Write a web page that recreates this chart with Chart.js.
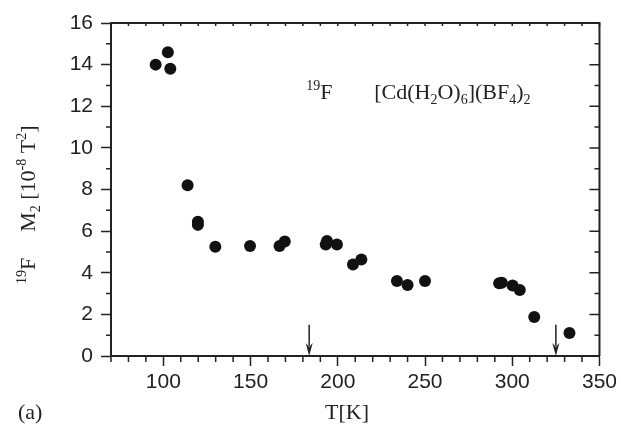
<!DOCTYPE html>
<html><head><meta charset="utf-8">
<script src="https://cdn.jsdelivr.net/npm/chart.js@4"></script>
<style>html,body{margin:0;padding:0;background:#fff}canvas{display:block}</style>
</head><body>
<canvas id="c" width="621" height="435"></canvas>
<script>
// ---- data ----
const temperatureK = [95.6, 102.6, 104.0, 113.9, 119.8, 119.8, 129.8, 149.7, 166.6, 169.6, 193.1, 193.8, 199.5, 208.7, 213.5, 233.9, 240.0, 250.0, 292.5, 294.0, 300.2, 304.3, 312.6, 332.8];
const secondMoment = [14.0, 14.6, 13.8, 8.2, 6.45, 6.3, 5.25, 5.28, 5.28, 5.5, 5.36, 5.52, 5.36, 4.4, 4.64, 3.6, 3.41, 3.6, 3.49, 3.52, 3.39, 3.17, 1.87, 1.1];
const xTickLabels = [100, 150, 200, 250, 300, 350];
const yTickLabels = [0, 2, 4, 6, 8, 10, 12, 14, 16];
const arrowT = [183.6, 325.0];
const arrowTopM2 = 1.5;

const AX = '#222';
const SERIF = '"Liberation Serif", "Times New Roman", serif';
const SANS = '"Liberation Sans", Arial, sans-serif';

function drawRuns(ctx, runs, x0, y0) {
  let x = x0;
  for (const r of runs) {
    const size = r.k ? 14 : 22;
    ctx.font = size + 'px ' + SERIF;
    const dy = r.k === 'sup' ? -9 : (r.k === 'sub' ? 5 : 0);
    ctx.fillText(r.t, x, y0 + dy);
    x += ctx.measureText(r.t).width + (r.gap || 0);
  }
}

const framePlugin = {
  id: 'frame',
  afterDraw(chart) {
    const ctx = chart.ctx, a = chart.chartArea, x = chart.scales.x, y = chart.scales.y;
    ctx.save();
    ctx.strokeStyle = AX; ctx.fillStyle = AX; ctx.lineWidth = 2;
    ctx.beginPath();
    ctx.moveTo(a.left, a.top); ctx.lineTo(a.right, a.top); ctx.lineTo(a.right, a.bottom);
    ctx.stroke();
    ctx.lineWidth = 1.5;
    ctx.beginPath();
    for (let v = x.min; v <= x.max; v += 10) {
      const px = x.getPixelForValue(v);
      if (v % 50 !== 0) { ctx.moveTo(px, a.bottom); ctx.lineTo(px, a.bottom + 6); }
      ctx.moveTo(px, a.top); ctx.lineTo(px, a.top + 3);
    }
    for (let v = y.min; v <= y.max; v += 1) {
      const py = y.getPixelForValue(v);
      if (v % 2 !== 0) { ctx.moveTo(a.left, py); ctx.lineTo(a.left - 5, py); }
      ctx.moveTo(a.right, py); ctx.lineTo(a.right - (v % 2 ? 5 : 10), py);
    }
    ctx.stroke();
    // arrows
    for (const t of arrowT) {
      const px = x.getPixelForValue(t);
      const top = y.getPixelForValue(arrowTopM2), tip = y.getPixelForValue(0);
      ctx.beginPath(); ctx.lineWidth = 1.5;
      ctx.moveTo(px, top); ctx.lineTo(px, tip - 10); ctx.stroke();
      ctx.beginPath();
      ctx.moveTo(px - 3.5, tip - 13); ctx.lineTo(px, tip - 9); ctx.lineTo(px + 3.5, tip - 13);
      ctx.lineTo(px, tip); ctx.closePath(); ctx.fill();
    }
    // annotation
    ctx.textBaseline = 'alphabetic'; ctx.textAlign = 'left';
    const by = y.getPixelForValue(12.35);
    drawRuns(ctx, [{t: '19', k: 'sup'}, {t: 'F'}], x.getPixelForValue(181.9), by);
    drawRuns(ctx, [{t: '[Cd(H'}, {t: '2', k: 'sub'}, {t: 'O)'}, {t: '6', k: 'sub'}, {t: '](BF'}, {t: '4', k: 'sub'}, {t: ')'}, {t: '2', k: 'sub'}], x.getPixelForValue(220.9), by);
    // y title
    ctx.save();
    ctx.translate(35, 284); ctx.rotate(-Math.PI / 2);
    drawRuns(ctx, [{t: '19', k: 'sup'}, {t: 'F', gap: 26}, {t: 'M'}, {t: '2', k: 'sub'}, {t: ' [10'}, {t: '-8', k: 'sup'}, {t: ' T'}, {t: '2', k: 'sup'}, {t: ']'}], 0, 0);
    ctx.restore();
    // x title & panel label
    ctx.font = '22px ' + SERIF;
    ctx.textAlign = 'center';
    ctx.fillText('T[K]', 347, 419);
    ctx.textAlign = 'left';
    ctx.fillText('(a)', 18, 419);
    ctx.restore();
  }
};

new Chart(document.getElementById('c'), {
  type: 'scatter',
  data: {
    datasets: [{
      data: temperatureK.map((t, i) => ({x: t, y: secondMoment[i]})),
      backgroundColor: '#111', borderColor: '#111', borderWidth: 0,
      pointRadius: 6, pointHoverRadius: 6
    }]
  },
  options: {
    responsive: false, animation: false, devicePixelRatio: 1,
    layout: {padding: {top: 23, right: 20, left: 0, bottom: 0}},
    plugins: {legend: {display: false}, tooltip: {enabled: false}},
    scales: {
      x: {
        type: 'linear', position: 'bottom', min: 70, max: 350,
        afterBuildTicks: s => { s.ticks = xTickLabels.map(v => ({value: v})); },
        afterFit: s => { s.height = 79; },
        grid: {drawOnChartArea: false, tickLength: 10, tickWidth: 1.5, tickColor: AX},
        border: {color: AX, width: 2},
        ticks: {font: {family: SANS, size: 21}, color: AX, padding: 4, maxRotation: 0}
      },
      y: {
        type: 'linear', position: 'left', min: 0, max: 16,
        afterBuildTicks: s => { s.ticks = yTickLabels.map(v => ({value: v})); },
        afterFit: s => { s.width = 111; },
        grid: {drawOnChartArea: false, tickLength: 10, tickWidth: 1.5, tickColor: AX},
        border: {color: AX, width: 2},
        ticks: {font: {family: SANS, size: 21}, color: AX, padding: 8}
      }
    }
  },
  plugins: [framePlugin]
});
</script>
</body></html>
